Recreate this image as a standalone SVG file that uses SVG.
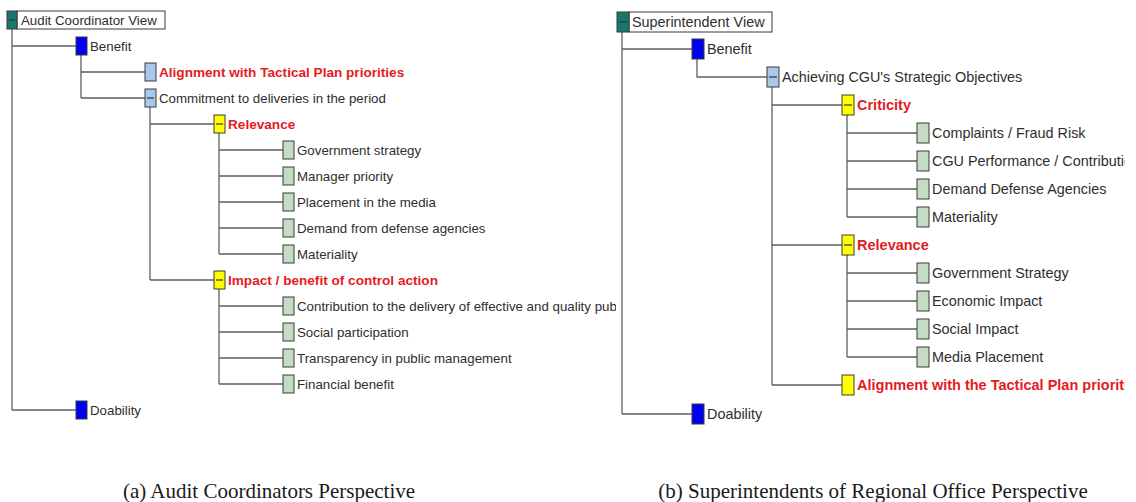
<svg xmlns="http://www.w3.org/2000/svg" width="1136" height="502" viewBox="0 0 1136 502">
  <style>
    .bg { fill: #ffffff; }
    .wire { fill: none; stroke: #5f5f5f; stroke-width: 1.3; }
    .sq { stroke: #3a3a3a; stroke-width: 1; }
    .root { fill: #17786e; }
    .crit { fill: #0000f0; }
    .sub { fill: #a9c8ec; }
    .grp { fill: #ffff00; }
    .leaf { fill: #c4dcc4; }
    .minus { stroke: #333333; stroke-width: 1.2; }
    .box { fill: #ffffff; stroke: #3a3a3a; stroke-width: 1; }
    .a { font-family: "Liberation Sans", Arial, sans-serif; font-size: 13.3px; fill: #2e2e2e; }
    .b { font-family: "Liberation Sans", Arial, sans-serif; font-size: 14.4px; fill: #2e2e2e; }
    .hot { fill: #e41b22; font-weight: bold; }
    .a.hot { font-size: 13.6px; }
    .b.hot { font-size: 14.5px; }
    .cap { font-family: "Liberation Serif", "Times New Roman", serif; font-size: 21px; fill: #1a1a1a; }
  </style>
  <defs>
    <clipPath id="clipA"><rect x="0" y="0" width="616" height="440"/></clipPath>
    <clipPath id="clipB"><rect x="600" y="0" width="525" height="440"/></clipPath>
  </defs>
  <rect class="bg" x="0" y="0" width="1136" height="502"/>

  <!-- (a) Audit coordinator tree -->
  <g id="treeA" clip-path="url(#clipA)">
    <g id="connectorsA" class="wire">
      <path d="M12 29 V410 M12 46 H76 M12 410 H76"/>
      <path d="M81 55 V98 M81 72 H145 M81 98 H145"/>
      <path d="M150 107 V280 M150 124 H214 M150 280 H214"/>
      <path d="M219 133 V254 M219 150 H283 M219 176 H283 M219 202 H283 M219 228 H283 M219 254 H283"/>
      <path d="M219 289 V384 M219 306 H283 M219 332 H283 M219 358 H283 M219 384 H283"/>
    </g>
    <g id="a-root">
      <rect class="box" x="17" y="11" width="148" height="18"/>
      <rect class="sq root" x="7" y="11" width="10" height="18"/>
      <line class="minus" x1="9" y1="20" x2="15" y2="20"/>
      <text class="a" x="21" y="25">Audit Coordinator View</text>
    </g>
    <g id="a-benefit">
      <rect class="sq crit" x="76" y="37" width="11" height="18"/>
      <text class="a" x="90" y="51">Benefit</text>
    </g>
    <g id="a-alignment">
      <rect class="sq sub" x="145" y="63" width="11" height="18"/>
      <text class="a hot" x="159" y="77">Alignment with Tactical Plan priorities</text>
    </g>
    <g id="a-commitment">
      <rect class="sq sub" x="145" y="89" width="11" height="18"/>
      <line class="minus" x1="147" y1="98" x2="154" y2="98"/>
      <text class="a" x="159" y="103">Commitment to deliveries in the period</text>
    </g>
    <g id="a-relevance">
      <rect class="sq grp" x="214" y="115" width="11" height="18"/>
      <line class="minus" x1="216" y1="124" x2="223" y2="124"/>
      <text class="a hot" x="228" y="129">Relevance</text>
    </g>
    <g id="a-gov">
      <rect class="sq leaf" x="283" y="141" width="11" height="18"/>
      <text class="a" x="297" y="155">Government strategy</text>
    </g>
    <g id="a-manager">
      <rect class="sq leaf" x="283" y="167" width="11" height="18"/>
      <text class="a" x="297" y="181">Manager priority</text>
    </g>
    <g id="a-media">
      <rect class="sq leaf" x="283" y="193" width="11" height="18"/>
      <text class="a" x="297" y="207">Placement in the media</text>
    </g>
    <g id="a-demand">
      <rect class="sq leaf" x="283" y="219" width="11" height="18"/>
      <text class="a" x="297" y="233">Demand from defense agencies</text>
    </g>
    <g id="a-materiality">
      <rect class="sq leaf" x="283" y="245" width="11" height="18"/>
      <text class="a" x="297" y="259">Materiality</text>
    </g>
    <g id="a-impact">
      <rect class="sq grp" x="214" y="271" width="11" height="18"/>
      <line class="minus" x1="216" y1="280" x2="223" y2="280"/>
      <text class="a hot" x="228" y="285">Impact / benefit of control action</text>
    </g>
    <g id="a-contribution">
      <rect class="sq leaf" x="283" y="297" width="11" height="18"/>
      <text class="a" x="297" y="311">Contribution to the delivery of effective and quality public services</text>
    </g>
    <g id="a-social">
      <rect class="sq leaf" x="283" y="323" width="11" height="18"/>
      <text class="a" x="297" y="337">Social participation</text>
    </g>
    <g id="a-transparency">
      <rect class="sq leaf" x="283" y="349" width="11" height="18"/>
      <text class="a" x="297" y="363">Transparency in public management</text>
    </g>
    <g id="a-financial">
      <rect class="sq leaf" x="283" y="375" width="11" height="18"/>
      <text class="a" x="297" y="389">Financial benefit</text>
    </g>
    <g id="a-doability">
      <rect class="sq crit" x="76" y="401" width="11" height="18"/>
      <text class="a" x="90" y="415">Doability</text>
    </g>
  </g>

  <!-- (b) Superintendent tree -->
  <g id="treeB" clip-path="url(#clipB)">
    <g id="connectorsB" class="wire">
      <path d="M622 32 V414 M622 49 H692 M622 414 H692"/>
      <path d="M697 59 V77 H767"/>
      <path d="M772 87 V385 M772 105 H842 M772 245 H842 M772 385 H842"/>
      <path d="M847 115 V217 M847 133 H917 M847 161 H917 M847 189 H917 M847 217 H917"/>
      <path d="M847 255 V357 M847 273 H917 M847 301 H917 M847 329 H917 M847 357 H917"/>
    </g>
    <g id="b-root">
      <rect class="box" x="629" y="12" width="143" height="20"/>
      <rect class="sq root" x="617" y="12" width="12" height="20"/>
      <line class="minus" x1="619" y1="22" x2="627" y2="22"/>
      <text class="b" x="632" y="27">Superintendent View</text>
    </g>
    <g id="b-benefit">
      <rect class="sq crit" x="692" y="39" width="12" height="20"/>
      <text class="b" x="707" y="54">Benefit</text>
    </g>
    <g id="b-achieving">
      <rect class="sq sub" x="767" y="67" width="12" height="20"/>
      <line class="minus" x1="769" y1="77" x2="777" y2="77"/>
      <text class="b" x="782" y="82">Achieving CGU's Strategic Objectives</text>
    </g>
    <g id="b-criticity">
      <rect class="sq grp" x="842" y="95" width="12" height="20"/>
      <line class="minus" x1="844" y1="105" x2="852" y2="105"/>
      <text class="b hot" x="857" y="110">Criticity</text>
    </g>
    <g id="b-complaints">
      <rect class="sq leaf" x="917" y="123" width="12" height="20"/>
      <text class="b" x="932" y="138">Complaints / Fraud Risk</text>
    </g>
    <g id="b-performance">
      <rect class="sq leaf" x="917" y="151" width="12" height="20"/>
      <text class="b" x="932" y="166">CGU Performance / Contribution</text>
    </g>
    <g id="b-demand">
      <rect class="sq leaf" x="917" y="179" width="12" height="20"/>
      <text class="b" x="932" y="194">Demand Defense Agencies</text>
    </g>
    <g id="b-materiality">
      <rect class="sq leaf" x="917" y="207" width="12" height="20"/>
      <text class="b" x="932" y="222">Materiality</text>
    </g>
    <g id="b-relevance">
      <rect class="sq grp" x="842" y="235" width="12" height="20"/>
      <line class="minus" x1="844" y1="245" x2="852" y2="245"/>
      <text class="b hot" x="857" y="250">Relevance</text>
    </g>
    <g id="b-gov">
      <rect class="sq leaf" x="917" y="263" width="12" height="20"/>
      <text class="b" x="932" y="278">Government Strategy</text>
    </g>
    <g id="b-economic">
      <rect class="sq leaf" x="917" y="291" width="12" height="20"/>
      <text class="b" x="932" y="306">Economic Impact</text>
    </g>
    <g id="b-social">
      <rect class="sq leaf" x="917" y="319" width="12" height="20"/>
      <text class="b" x="932" y="334">Social Impact</text>
    </g>
    <g id="b-media">
      <rect class="sq leaf" x="917" y="347" width="12" height="20"/>
      <text class="b" x="932" y="362">Media Placement</text>
    </g>
    <g id="b-alignment">
      <rect class="sq grp" x="842" y="375" width="12" height="20"/>
      <text class="b hot" x="857" y="390">Alignment with the Tactical Plan priorities</text>
    </g>
    <g id="b-doability">
      <rect class="sq crit" x="692" y="404" width="12" height="20"/>
      <text class="b" x="707" y="419">Doability</text>
    </g>
  </g>

  <!-- captions -->
  <text class="cap" x="269" y="498" text-anchor="middle">(a) Audit Coordinators Perspective</text>
  <text class="cap" x="873" y="498" text-anchor="middle">(b) Superintendents of Regional Office Perspective</text>
</svg>
